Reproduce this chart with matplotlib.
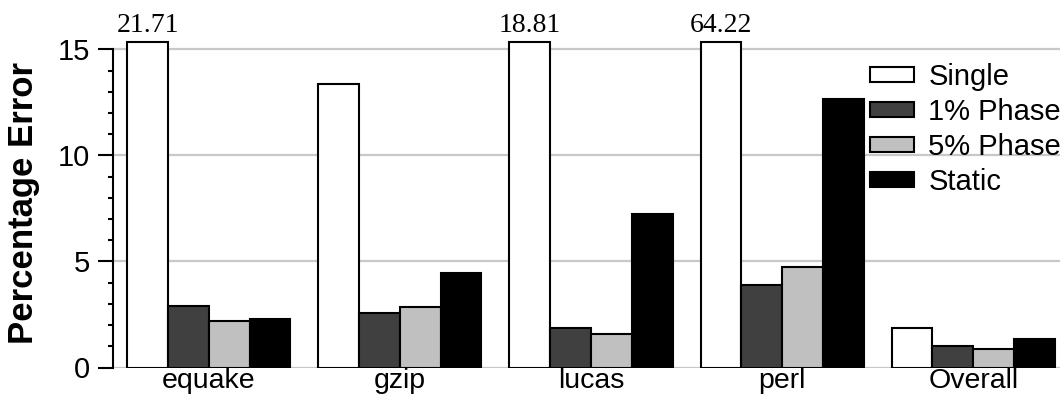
import matplotlib
matplotlib.use("Agg")
import matplotlib.pyplot as plt
import numpy as np
from matplotlib.patches import Patch

categories = ["equake", "gzip", "lucas", "perl", "Overall"]
series_names = ["Single", "1% Phase", "5% Phase", "Static"]
single = [21.71, 13.37, 18.81, 64.22, 1.88]
phase1 = [2.88, 2.58, 1.85, 3.89, 1.03]
phase5 = [2.17, 2.85, 1.58, 4.73, 0.89]
static = [2.28, 4.44, 7.24, 12.67, 1.33]
colors = ["#ffffff", "#404040", "#c0c0c0", "#000000"]
yticks = [0, 5, 10, 15]
cap = 15.36

plt.rcParams['font.family'] = ['Liberation Sans', 'DejaVu Sans']

fig = plt.figure(figsize=(10.6, 3.96), dpi=100)
ax = fig.add_axes([113/1060, 28.5/396, 1 - 113/1060, 0.8298])

x = np.arange(len(categories))
w = 0.2135
allseries = [single, phase1, phase5, static]
for i, (vals, col) in enumerate(zip(allseries, colors)):
    v = np.array(vals, dtype=float)
    ax.bar(x + (i - 1.5) * w, np.minimum(v, cap), width=w, color=col,
           edgecolor="black", linewidth=1.5, zorder=3)
    if i == 0:
        for xi, vi in zip(x, v):
            if vi > cap:
                ax.text(xi - 1.5 * w, cap + 0.17, f"{vi:.2f}", ha="center", va="bottom",
                        fontsize=20, family="Liberation Serif")

ax.set_xlim(-0.501, 4.454)
ax.set_ylim(0, 15.5)
ax.set_yticks(yticks)
ax.set_yticks(np.arange(0, 16, 1), minor=True)
ax.tick_params(axis="y", which="major", length=10.5, width=1.5, labelsize=21, pad=6)
ax.tick_params(axis="y", which="minor", length=3.8, width=1.5)
ax.set_xticks(x)
ax.set_xticklabels(categories, fontsize=20.5)
ax.tick_params(axis="x", length=0, pad=0.5)

for s in ["top", "right", "bottom"]:
    ax.spines[s].set_visible(False)
ax.spines["left"].set_linewidth(1.5)
ax.spines["left"].set_bounds(0, 15)

for yv in yticks:
    ax.axhline(yv, color="#c8c8c8", linewidth=1.6, zorder=1)

ax.set_ylabel("Percentage Error", fontsize=25, fontweight="bold")
ax.yaxis.set_label_coords(-0.077, 0.5)

handles = [Patch(facecolor=c, edgecolor="black", linewidth=1.5) for c in colors]
leg = ax.legend(handles, series_names, loc="upper left",
                bbox_to_anchor=(870/1060, 1 - 63/396), bbox_transform=fig.transFigure,
                frameon=False, fontsize=21, handlelength=1.5, handleheight=0.4,
                handletextpad=0.5, labelspacing=0.24, borderpad=0, borderaxespad=0)

fig.savefig("out.png", dpi=100)
